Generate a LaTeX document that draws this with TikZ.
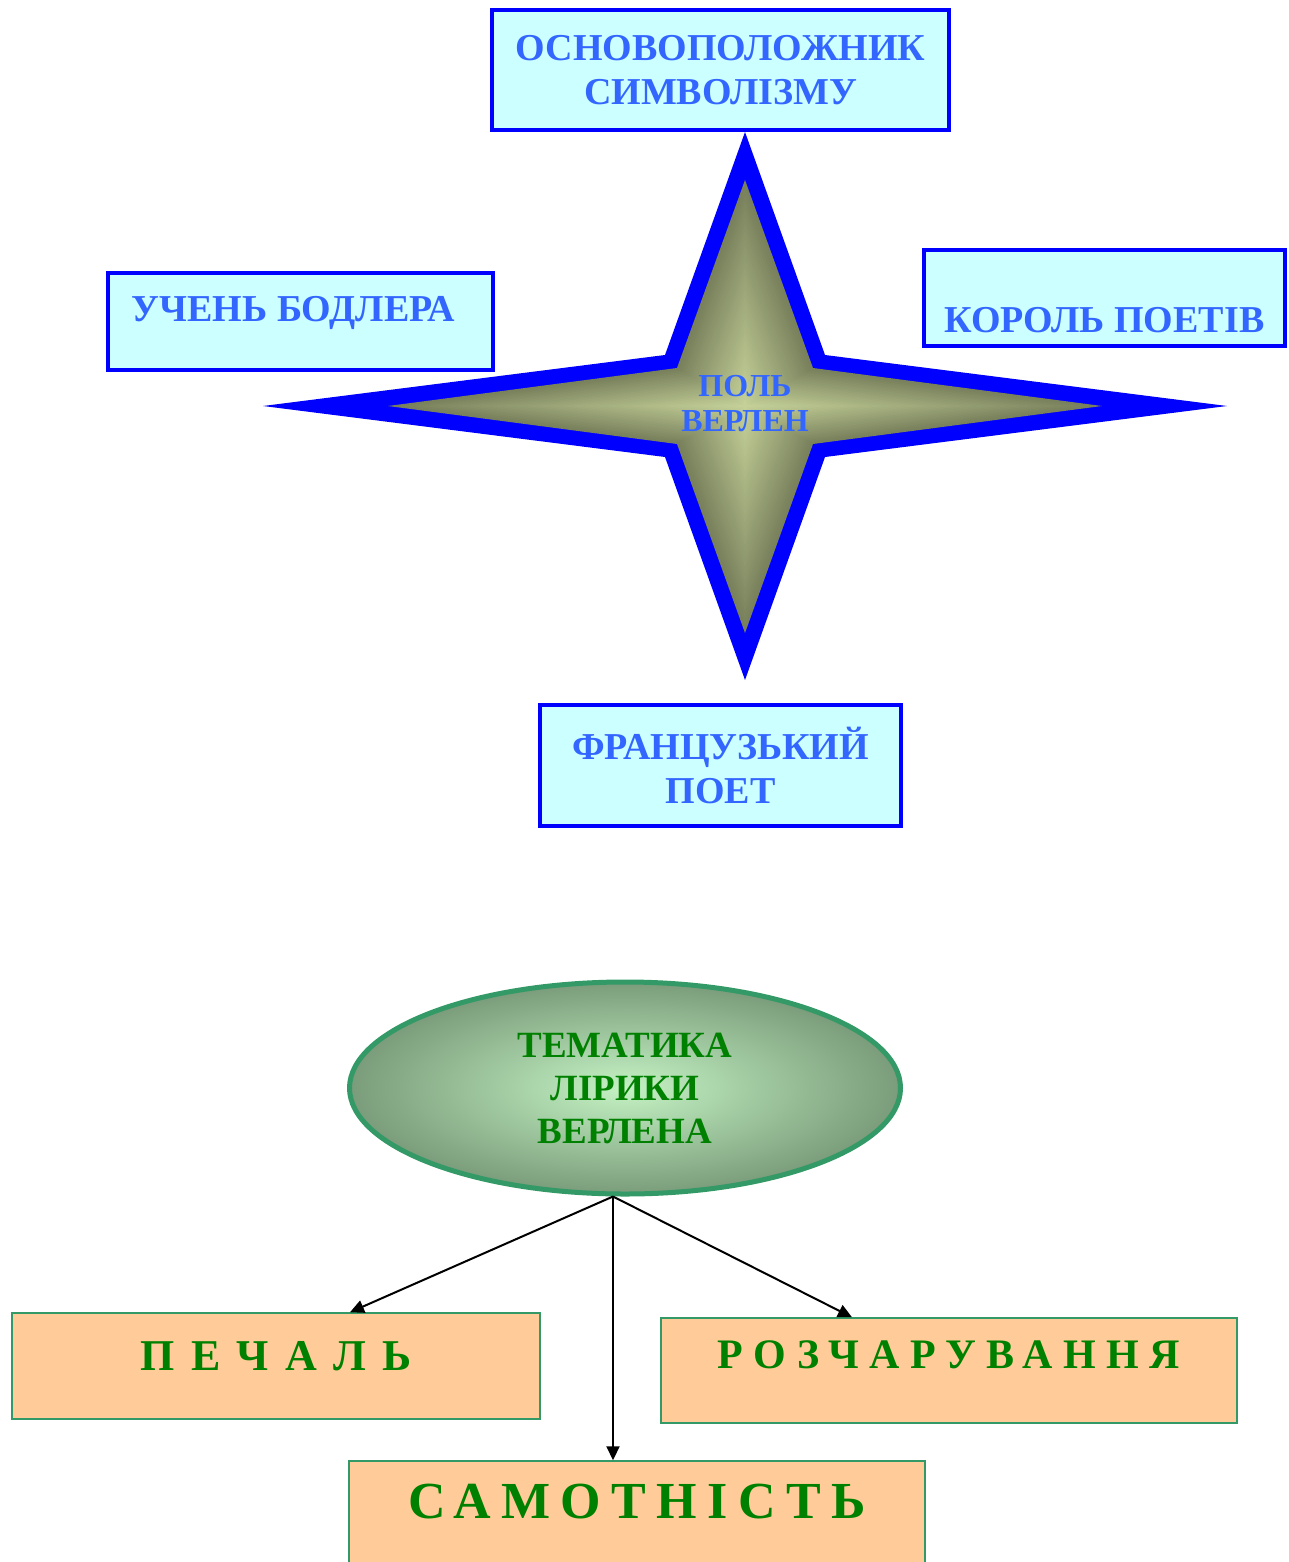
\documentclass[tikz,border=0pt]{standalone}
\usepackage{fontspec}
\setmainfont{Liberation Serif}
\usetikzlibrary{shapes.geometric,arrows.meta,calc}
\definecolor{textblue}{RGB}{51,102,255}
\definecolor{boxcyan}{RGB}{204,255,255}
\definecolor{edgeblue}{RGB}{0,0,255}
\definecolor{stardark}{RGB}{120,128,92}
\definecolor{starlight}{RGB}{196,208,152}
\definecolor{themegreen}{RGB}{0,128,0}
\definecolor{edgegreen}{RGB}{51,153,102}
\definecolor{boxpeach}{RGB}{255,204,153}
\definecolor{ovallight}{RGB}{196,242,196}
\definecolor{ovaldark}{RGB}{122,156,122}
\tikzset{
  bluebox/.style={draw=edgeblue, line width=3.5pt, fill=boxcyan, text=textblue,
    font=\bfseries\fontsize{38}{44}\selectfont, align=center, inner sep=0pt},
  peachbox/.style={draw=edgegreen, line width=1.5pt, fill=boxpeach,
    text=themegreen, inner sep=0pt},
  branch/.style={-{Triangle[length=14pt,width=13pt]}, line width=2pt}
}
\begin{document}
\begin{tikzpicture}[x=1pt, y=-1pt]
    \useasboundingbox (0,0) rectangle (1288,1562);
    % Star
    \fill [edgeblue] (745,132) -- (825,355) -- (1227,406) -- (825,457)
        -- (745,680) -- (665,457) -- (263,406) -- (665,355) -- cycle;
        \foreach \i in {0,...,30}
    {
    \pgfmathsetmacro\s{1-\i/31}
    \pgfmathsetmacro\p{100*\i/30}
    \fill [starlight!\p!stardark, shift={(745,406)}, scale=\s]
        (0,-226) -- (68,-38) -- (357,0) -- (68,38) -- (0,227)
        -- (-68,38) -- (-357,0) -- (-68,-38) -- cycle;
    }
    \node [text=textblue, font=\bfseries\fontsize{32}{35}\selectfont, align=center]
        (verlaine) at (745,404) {ПОЛЬ\\ВЕРЛЕН};
    % Boxes round the star
    \node [bluebox, minimum width=457pt, minimum height=120pt]
        (founder) at (720.5,70) {ОСНОВОПОЛОЖНИК\\СИМВОЛІЗМУ};
    \node [bluebox, minimum width=385pt, minimum height=97pt, text height=20pt, text depth=20pt]
        (pupil) at (300.5,321.5) {УЧЕНЬ БОДЛЕРА\hspace*{14pt}};
    \node [bluebox, minimum width=361pt, minimum height=96pt, text height=70pt, text depth=2pt]
        (king) at (1104.5,298) {КОРОЛЬ ПОЕТІВ};
    \node [bluebox, minimum width=361pt, minimum height=121pt]
        (french) at (720.5,765.5) {ФРАНЦУЗЬКИЙ\\ПОЕТ};
    % Themes
    \node [ellipse, draw=edgegreen, line width=5pt, inner color=ovallight, outer color=ovaldark,
        minimum width=551pt, minimum height=212pt, text=themegreen,
        font=\bfseries\fontsize{37}{43}\selectfont, align=center]
        (theme) at (625,1088) {ТЕМАТИКА\\ЛІРИКИ\\ВЕРЛЕНА};
    \node [peachbox, minimum width=528pt, minimum height=106pt, text height=30pt, text depth=22pt,
        font=\bfseries\fontsize{44}{50}\selectfont\addfontfeature{LetterSpace=37}]
        (sorrow) at (276,1366) {ПЕЧАЛЬ};
    \node [peachbox, minimum width=576pt, minimum height=105pt, text height=28pt, text depth=33pt,
        font=\bfseries\fontsize{42}{48}\selectfont\addfontfeature{LetterSpace=25}]
        (disillusion) at (949,1370.5) {РОЗЧАРУВАННЯ};
    \node [peachbox, minimum width=576pt, minimum height=120pt, text height=35pt, text depth=41pt,
        font=\bfseries\fontsize{52}{58}\selectfont\addfontfeature{LetterSpace=20}]
        (loneliness) at (637,1521) {САМОТНІСТЬ};
    % Arrows
    \draw [branch] ($(theme.south)+(-12,0)$) -- ($(sorrow.north)+(74,0)$);
    \draw [branch] ($(theme.south)+(-12,0)$) -- ($(loneliness.north)+(-24,0)$);
    \draw [branch] ($(theme.south)+(-12,0)$) -- ($(disillusion.north)+(-97,0)$);

\end{tikzpicture}
\end{document}
